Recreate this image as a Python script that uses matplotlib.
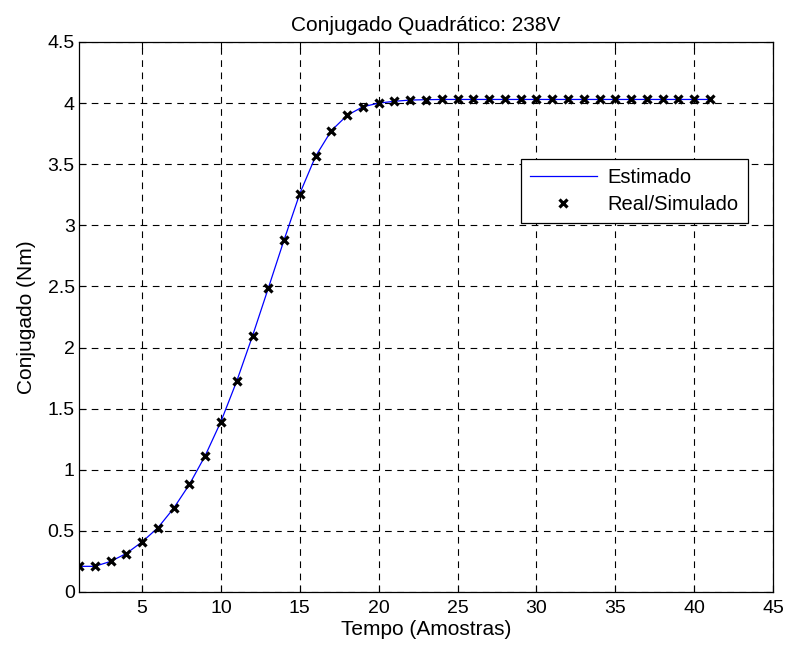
import matplotlib
matplotlib.use("Agg")
import matplotlib.pyplot as plt

# samples (Amostras) 1..41
amostras = list(range(1, 42))

# torque read from the simulation, Nm
real_simulado = [
    0.21, 0.21, 0.25, 0.315, 0.41, 0.525, 0.685, 0.88, 1.115, 1.395,
    1.725, 2.095, 2.485, 2.88, 3.26, 3.565, 3.775, 3.90, 3.97, 4.00,
    4.015, 4.025, 4.028, 4.03, 4.03, 4.03, 4.03, 4.03, 4.03, 4.03,
    4.03, 4.03, 4.03, 4.03, 4.03, 4.03, 4.03, 4.03, 4.03, 4.03, 4.03,
]

# estimated torque from the quadratic model
estimado = [
    0.21, 0.21, 0.25, 0.315, 0.41, 0.525, 0.685, 0.88, 1.115, 1.395,
    1.725, 2.095, 2.485, 2.88, 3.26, 3.565, 3.775, 3.90, 3.97, 4.00,
    4.015, 4.025, 4.028, 4.03, 4.03, 4.03, 4.03, 4.03, 4.03, 4.03,
    4.03, 4.03, 4.03, 4.03, 4.03, 4.03, 4.03, 4.03, 4.03, 4.03, 4.03,
]

xticks = [5, 10, 15, 20, 25, 30, 35, 40, 45]
yticks = [0, 0.5, 1, 1.5, 2, 2.5, 3, 3.5, 4, 4.5]

plt.rcParams["font.family"] = ["Liberation Sans", "DejaVu Sans"]

fig = plt.figure(figsize=(7.88, 6.47), dpi=100)
ax = fig.add_axes([79 / 788, 1 - 592 / 647, (773 - 79) / 788, (592 - 42) / 647])

ax.plot(amostras, estimado, color="blue", linewidth=0.9, label="Estimado")
ax.plot(amostras, real_simulado, linestyle="none", marker="x", color="black",
        markersize=5.5, markeredgewidth=2.3, label="Real/Simulado")

ax.set_xlim(1, 45)
ax.set_ylim(0, 4.5)
ax.set_xticks(xticks)
ax.set_yticks(yticks)
ax.set_yticklabels(["0", "0.5", "1", "1.5", "2", "2.5", "3", "3.5", "4", "4.5"])
ax.tick_params(direction="in", top=True, right=True, length=5, width=0.8,
               labelsize=14, pad=3)
ax.tick_params(axis="x", pad=6)
ax.grid(True, color="black", linestyle=(0, (6, 5)), linewidth=0.8)
for s in ax.spines.values():
    s.set_linewidth(0.9)

ax.set_title("Conjugado Quadrático: 238V", fontsize=15, pad=8)
ax.set_xlabel("Tempo (Amostras)", fontsize=15, labelpad=2)
ax.set_ylabel("Conjugado (Nm)", fontsize=15, labelpad=8)

leg = ax.legend(loc="upper left", bbox_to_anchor=((521 - 79) / 694, 1 - (159 - 42) / 550),
                fontsize=14.5, frameon=True, fancybox=False, framealpha=1,
                edgecolor="black", borderpad=0.45, handlelength=3.3,
                handletextpad=0.55, labelspacing=0.4, borderaxespad=0,
                numpoints=1)
leg.get_frame().set_linewidth(0.9)

fig.savefig("out.png", dpi=100)
